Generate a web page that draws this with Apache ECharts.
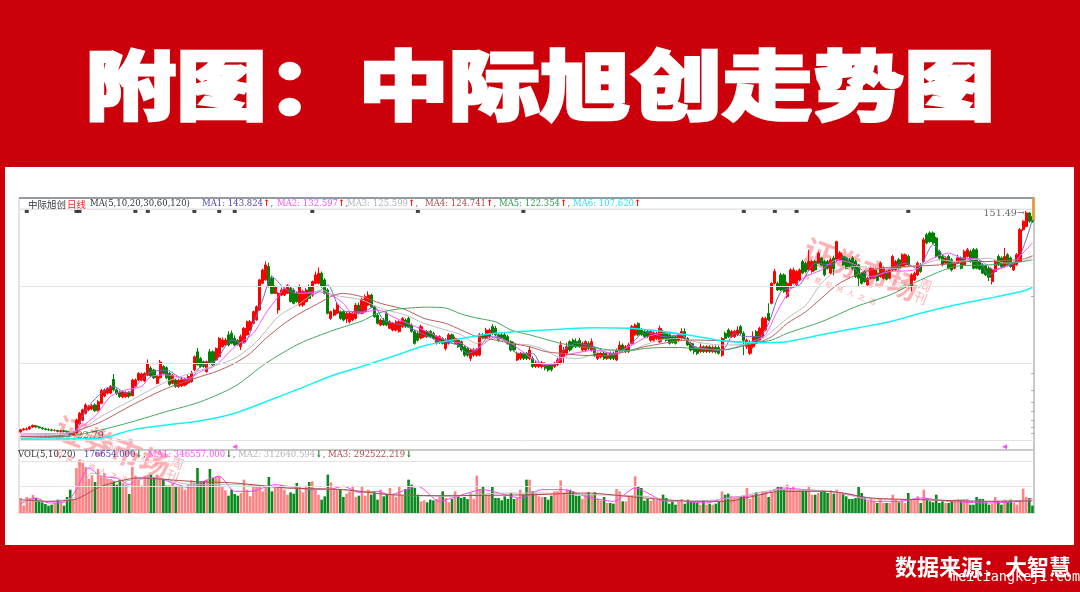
<!DOCTYPE html>
<html>
<head>
<meta charset="utf-8">
<script src="https://cdn.jsdelivr.net/npm/echarts@6/dist/echarts.min.js"></script>
<style>html,body{margin:0;padding:0;background:#cc000b}#main{width:1080px;height:592px}</style>
</head>
<body>
<div id="main"></div>
<script>
// daily candles, one row per ten bars
var opens = [
 23.6,24.0,24.1,24.2,24.6,24.8,24.6,24.4,24.2,24.1,
 24.0,23.9,23.9,23.7,23.8,23.7,23.4,23.0,23.4,25.3,
 26.0,27.6,28.4,28.6,29.6,28.3,30.0,31.9,32.7,32.7,
 36.7,33.6,33.0,31.7,31.8,32.8,32.0,34.6,36.5,36.5,
 36.2,38.0,40.4,39.7,35.5,37.2,40.9,40.5,38.6,35.5,
 36.5,34.6,34.8,35.0,35.6,36.0,39.7,46.3,43.8,42.6,
 39.2,46.3,46.3,43.2,44.4,48.3,49.0,53.4,54.1,51.8,
 51.0,48.3,50.3,53.4,55.6,58.8,60.5,65.8,82.4,84.8,
 94.9,86.0,75.7,65.8,74.6,74.6,75.7,79.0,77.9,75.7,
 68.6,68.6,70.6,80.1,74.6,82.4,82.4,89.7,84.8,77.9,
 61.3,63.0,64.0,64.9,64.9,61.0,59.6,60.5,61.3,68.6,
 64.0,64.9,68.6,74.6,67.6,63.0,58.0,60.5,64.0,56.4,
 55.6,55.6,54.9,57.2,60.5,61.3,58.0,54.9,54.0,52.0,
 52.6,54.9,54.9,54.1,49.7,50.0,51.8,47.6,49.7,53.4,
 49.7,51.0,50.4,48.3,47.6,43.8,45.0,45.0,45.0,53.4,
 52.0,52.6,57.2,56.4,53.4,53.4,53.4,52.6,50.4,49.7,
 43.2,43.8,45.7,45.7,43.8,43.8,40.9,40.9,40.9,41.8,
 41.5,41.5,40.9,41.5,42.0,44.4,45.7,50.4,51.0,50.4,
 51.0,47.0,47.0,49.7,47.0,47.6,43.8,44.4,45.7,43.8,
 45.7,45.7,43.2,47.0,49.0,46.4,46.4,49.7,53.4,58.8,
 55.6,54.9,54.9,51.0,51.0,51.8,50.4,54.9,54.0,53.4,
 52.6,52.6,51.0,51.8,54.9,51.8,49.7,48.3,47.6,46.4,
 48.3,46.4,48.3,46.4,48.0,48.0,45.0,54.1,55.6,52.6,
 52.6,53.4,57.2,54.1,48.3,45.7,48.3,54.9,51.0,52.6,
 55.6,64.0,69.6,82.4,82.4,88.4,88.4,73.6,80.1,82.4,
 81.3,84.8,99.0,97.6,92.2,91.0,99.0,97.6,102,99.0,
 99.0,89.7,102,100.4,100.4,103.3,102,100.4,102,99.0,
 96.0,89.7,91.0,81.3,86.0,86.0,89.7,87.2,86.0,91.0,
 86,92.2,92.2,100.4,94.9,96.2,103.3,80.1,84.8,88.4,
 96,99,124,125.8,125.8,120.6,107.7,103.3,97.6,103.3,
 100.4,93.5,97.6,102,96.2,103.3,107.7,109.3,109.3,99,
 96.2,95.5,93.5,83.6,91,103.3,102,94.9,104.8,102,
 92.2,96.2,99,129.4,133,149,144.8];
var closes = [
 24.0,24.2,24.2,24.6,24.9,24.6,24.4,24.2,24.1,24.0,
 23.9,23.9,23.7,23.8,23.7,23.4,23.1,23.3,26.1,27.6,
 28.4,29.6,29.2,29.4,28.2,30.4,33.4,33.6,34.0,34.6,
 33.6,32.6,31.8,33.0,32.8,31.9,36.5,36.5,38.6,38.4,
 38.6,41.9,37.8,37.2,37.6,42.5,38.6,37.2,35.2,38.0,
 34.6,36.4,36.6,36.6,37.6,38.6,44.4,41.5,40.9,40.9,
 42.6,42.0,41.5,47.6,51.8,51.1,51.1,49.0,49.7,49.0,
 49.2,52.6,56.4,59.6,59.6,64.9,67.6,84.8,92.2,96.2,
 80.1,75.7,80.1,75.7,77.9,78.4,80.1,70.6,69.6,70.6,
 80.1,76.8,77.9,72.6,83.6,88.4,89.7,80.1,75.7,64.0,
 64.9,65.8,68.6,61.3,60.5,64.0,64.0,64.0,68.6,64.0,
 72.0,73.6,74.6,67.6,62.2,58.8,60.5,58.0,58.0,59.6,
 58.8,59.6,59.6,61.3,57.2,57.2,55.0,49.7,51.0,57.2,
 54.9,52.6,52.6,51.8,52.6,52.6,49.7,51.0,53.4,50.4,
 51.8,48.3,47.0,45.0,45.0,47.0,47.0,47.0,53.4,52.0,
 55.6,55.6,54.0,53.4,51.0,52.0,51.0,49.7,47.0,47.0,
 45.7,45.7,43.8,43.8,47.0,40.9,42.2,42.0,42.2,40.3,
 39.7,39.9,42.0,43.2,49.0,47.0,48.3,47.0,48.3,48.3,
 48.3,49.7,50.4,47.6,50.4,45.0,45.7,45.7,43.8,45.0,
 43.8,43.8,47.0,49.0,47.0,48.3,49.0,57.2,58.0,53.4,
 53.4,52.6,52.6,54.9,54.4,54.0,56.4,51.8,51.0,49.7,
 50.0,49.7,53.4,54.9,51.8,49.0,47.0,46.4,45.7,48.3,
 46.4,48.3,46.4,48.0,46.2,45.7,51.8,51.8,52.6,54.9,
 54.9,55.6,54.1,51.0,51.0,49.7,52.6,49.7,56.4,61.3,
 61.3,60.5,82.4,91.0,77.9,77.9,76.8,82.4,92.2,92.2,
 91.0,92.2,89.7,91.0,99.0,99.0,92.2,106.2,96,88.4,
 93.5,100.4,93.0,117,106.2,96.2,93.5,94.9,93.5,87.2,
 86.0,82.4,83.6,86.0,93.5,92.2,84.4,97.6,93.5,85.3,
 92.2,103.3,99,93.5,104.8,104.8,96.2,88.4,89.7,97.6,
 91,118.9,115.6,117,115.6,103.3,101.8,96.2,102,93.5,
 92.2,97.6,102,93.5,107.7,109.3,99,93.5,93.5,92.8,
 89.7,88.4,86.7,92.2,99,96.2,94.9,103.3,96.2,94.9,
 97.6,104.8,129.4,138.9,149,138.9,138.9];
var lows = [
 23.4,23.8,23.9,24.0,24.4,24.4,24.3,24.1,23.9,23.8,
 23.7,23.7,23.5,23.5,23.5,23.2,22.79,22.9,23.2,25.1,
 25.8,27.3,28.1,28.3,27.9,28.0,29.8,31.6,32.3,32.4,
 33.2,32.2,31.4,31.3,31.4,31.4,31.8,34.3,36.2,36.1,
 35.9,37.7,37.4,36.8,35.2,36.9,38.2,36.8,34.8,35.2,
 34.2,34.2,34.4,34.6,35.2,35.7,39.4,41.2,40.5,40.5,
 38.8,41.6,41.1,42.8,44.0,47.9,48.6,48.5,49.3,48.6,
 48.8,47.0,49.9,53.0,55.2,58.4,60.1,65.4,81.8,84.3,
 79.6,75.2,75.2,63.8,74.0,74.0,75.2,70.2,69.0,70.0,
 67.6,67.6,70.0,72.0,73.6,81.6,81.6,79.4,75.0,63.4,
 60.6,62.4,63.4,60.6,59.8,59.0,58.8,59.8,60.8,63.4,
 63.4,64.4,68,67,61.6,58.3,57.4,57.5,57.4,56,
 55,55,54.4,56.6,56.6,56.6,54.4,49.2,50.5,51.4,
 52,52,52,51.3,49.2,49.5,49.2,46.8,49.2,50,
 49.2,47.8,46.4,44.4,44.4,42.8,44.4,44.4,44.6,51.4,
 51.6,52,53.4,52.8,50.4,51.4,50.4,49.2,46.4,46.4,
 42.8,43.2,43.2,43.2,43.2,40.4,40.4,40.4,40.2,39.6,
 39.2,39.2,40.4,41,41.6,42,45,46.4,47.6,47.8,
 47.8,46.4,46.4,47,46.4,44.4,43.2,43.8,43.2,43.2,
 43.2,43.2,42.8,46.4,46.4,45.8,45.8,49.2,53,52.8,
 53,52,52,50.4,50.4,51.2,49.8,51.2,50.4,49.2,
 49.6,49.2,50.4,51.2,51.2,48.6,46.4,45.4,45,45.8,
 45.8,45.8,45.8,45.8,45.6,45.2,44.4,51.2,52,52,
 52,52.8,53.4,45.0,47.4,45,47.6,49.2,50.4,52,
 55,60,69,81.6,77.2,77.2,76,72.6,79.4,81.6,
 80.6,84,89,90,91.4,90,91.4,97,95,87.4,
 92.8,88.8,88,99.6,99.6,95.4,92.6,94,92,86,
 80.0,81.6,82.8,80.6,85.2,85.2,83.6,86.4,85.2,84.4,
 85.2,91.4,91.4,92.6,94,95.4,95.4,77,84,87.6,
 90,98,114.4,116,114.4,102,100,95,96.6,92.6,
 91,92.6,96.8,92.6,95.4,102.4,98,92.6,92.6,92,
 89,87.6,84,81.6,90,95.4,94,94,95.4,94,
 91.4,95.4,98,128,132,137,137];
var highs = [
 24.2,24.4,24.5,24.8,25.1,25.0,24.8,24.6,24.4,24.3,
 24.2,24.1,24.0,24.0,24.0,23.9,23.6,23.6,26.4,27.9,
 28.7,30.0,29.6,29.8,30.0,30.8,33.9,34.0,34.4,35.0,
 38.4,34.0,33.4,33.4,33.2,33.2,36.9,37.0,39.0,38.9,
 39.0,43.4,41.0,40.1,38.0,43.2,41.4,41.0,39.0,38.4,
 37.0,36.9,37.2,37.2,38.1,39.4,44.9,47.8,44.3,43.0,
 43.0,47.4,46.9,48.0,52.4,52.2,52.0,55.0,55.4,53.2,
 51.5,53.6,57.0,60.2,60.5,65.5,68.4,85.4,93.2,99.0,
 98.0,88.0,81.0,76.5,79.5,79.6,82.0,80.0,79.0,77.0,
 81.5,78.0,79.0,81.5,84.4,91.0,94.2,91.0,86.0,79.0,
 65.5,66.6,70,65.5,65.5,65,64.8,64.8,69.8,70,
 73,75,77,75.5,68.5,64,61.2,61.5,65,60.4,
 59.5,60.4,60.4,62,61.2,62.2,58.8,55.6,54.8,58.2,
 55.6,55.6,55.6,54.8,53.2,53.2,52.4,51.8,54.2,54,
 52.6,51.8,51,48.9,48.2,47.6,47.8,47.8,54.2,54.2,
 56.6,56.4,58.4,57.6,54,54.2,54.2,53.4,51,50.4,
 46.4,46.2,46.2,46.2,48.5,44.6,42.8,42.6,42.8,42.4,
 42,42,42.6,44,50.6,48.2,50,51,51.8,51.8,
 52,50.4,51,50.6,51.8,48,46.4,46.4,46.4,45.8,
 46.4,46.4,47.6,50.6,49.7,49,50,58,58.8,59.4,
 56.6,55.6,55.6,55.6,55,54.8,57.8,55.6,55,54,
 53,53,54.2,56.4,56.4,52.4,50.4,49.7,48.4,49.7,
 48.9,48.9,48.9,48.8,48.9,48.8,52.4,54.9,56.4,55.6,
 55.6,57.4,58,55,51.8,51,55,55.6,57.2,62.2,
 62.2,69.6,83,93,83.6,90,89.6,83.6,93.5,94,
 92,93.4,100.4,98.8,109.3,100.4,100.4,107.6,103,100.4,
 100.4,102,104,118,108,104.8,103.4,102,103.4,100.4,
 97,90.5,92,87,94.9,94,92.2,99,95,92,
 93.4,104.8,100.4,102,106,106,104.8,89.7,91,99,
 97.6,121,125.8,127.6,127.6,122,109.3,104.8,103.3,104.8,
 101.8,98.8,104.8,103.3,109.3,111,109.3,111,110.8,100.4,
 97.6,96.2,95,93.5,100.4,105,103.3,111,106.2,103.3,
 98.8,106.2,131,140,151.49,150,146];

// volume in units of 10,000
var volumes = [
 36,18.4,38.4,36,43.2,36,30.4,25.6,21.6,17.6,
 20,24,32,25.6,17.6,38.4,56,33.6,108,128,
 120,110.4,81.6,90.4,74.4,105.6,89.6,96,81.6,81.6,
 76,68,80,72,68,45.6,110.4,89.6,80,65.6,
 89.6,92,92,86.4,92,81.6,80,65.6,65.6,72,
 62.4,62.4,64,56,68,78.4,73.6,108,73.6,76,
 80,105.6,84,86.4,88,64,54.4,41.6,56,45.6,
 41.6,48,80,56,40,64,64,65.6,52,64,
 86.4,52,65.6,64,68,56,44,49.6,46.4,72,
 62.4,49.6,65.6,74.4,76,56,44,32,40,92,
 73.6,60,56,56,38.4,46.4,52,65.6,38.4,41.6,
 62.4,41.6,56,44,52,32,56,40,44,60,
 44,38.4,64,41.6,57.6,80,68,60,44,28,
 30.4,25.6,32,30.4,33.6,40,52,36,25.6,33.6,
 52,40,36,38.4,33.6,48,33.6,89.6,57.6,62.4,
 44,44,62.4,36,36,30.4,40,33.6,48,33.6,
 36,56,44,80,80,52,48,40,38.4,38.4,
 32,41.6,52,52,78.4,49.6,56,56,52,41.6,
 41.6,33.6,46.4,49.6,44,49.6,33.6,29.6,38.4,24,
 24,22.4,57.6,52,28,28,38.4,41.6,88,64,
 60,29.6,33.6,29.6,33.6,32,33.6,44,36,22.4,
 28,20,28,33.6,22.4,32,28,25.6,24,20,
 30.4,20,22.4,20,22.4,28,52,44,46.4,40,
 38.4,38.4,40,41.6,60,33.6,44,49.6,40,52,
 52,38.4,49.6,57.6,64,64,57.6,68,57.6,62.4,
 54.4,56,54.4,54.4,65.6,44,44,48,52,52,
 48,54.4,46.4,56,48,46.4,40,33.6,33.6,36,
 64,48,38.4,28,36,28,24,36,24,24,
 24,44,33.6,25.6,30.4,24,48,32,32,40,
 24,56,36,28,25.6,44,24,28,24,24,
 28,32,33.6,32,33.6,33.6,20,20,38.4,33.6,
 33.6,25.6,20,22.4,38.4,28,20,32,28,32,
 24,20,30.4,58.4,38.4,36,17.67];

// moving averages: bar index and value
var ma1Idx = [0,15,18,21,26,30,34,36,41,47,53,55,58,63,68,72,75,78,81,85,89,95,99,102,105,110,114,117,123,127,134,141,144,147,151,156,160,165,168,172,175,179,185,191,198,201,207,213,217,226,230,233,238,241,245,251,256,261,265,270,273,280,285,289,294,297,301,308,312,315,321,326];
var ma1Vals = [22.7,23,24,28.4,32.7,34.6,32.7,33.6,38.6,39.7,36.5,37,40.9,43.2,51.1,49.7,58.8,71.6,87.2,79,75.7,75.7,81.3,69.6,64.9,64.9,67.6,60.5,57.9,55.6,51.1,49,45.7,47,52.6,51.1,45.7,45.7,41.5,41.5,47,49.7,48.3,45,51.1,54.9,52.6,53.4,48.3,47,54.1,52.6,52.6,58.8,76.8,81.3,97.6,96.2,103,89.7,85,93,97.6,93,114,105,97.6,102,88.4,93,99,141];
var ma2Idx = [0,15,18,24,29,34,39,42,47,54,58,63,69,75,79,83,86,90,96,101,104,107,110,115,121,126,131,137,142,146,153,158,164,169,172,176,181,185,191,196,202,207,213,217,226,237,240,244,248,253,258,263,269,274,280,288,293,299,303,309,314,320,326];
var ma2Vals = [23.2,23.3,24,26.9,31.8,33.6,34.6,37.6,38.1,37,39.2,41.4,48.3,54.1,64,73.6,81.3,75.7,76.8,73.6,69.6,64,64.4,65.8,61.3,58,54.9,51.1,49.7,47,52.6,49.7,44.4,41.5,42,45,46.3,47,45.7,48.3,52.6,54.1,53.4,48.3,47,51.1,53.4,65.8,77.9,87.2,92.2,100.4,96.2,87.2,90.9,92.2,100.4,106.2,102,100.4,92.2,99,115.6];
var ma3Idx = [0,18,26,36,47,58,69,76,83,90,97,101,110,116,124,130,137,142,147,153,158,164,169,173,180,185,190,196,201,206,212,217,226,237,242,247,253,258,263,269,280,290,296,301,312,317,323,326];
var ma3Vals = [22.9,23.7,26.9,30.9,36,39.7,43.8,50.4,62.2,69.6,77.9,74.6,71.6,66.7,63.1,58.8,55.6,53.4,49.7,51.8,49.7,49,47,44.4,43.8,45.7,47,46.7,49,51.1,51.8,50.4,49,50,54.9,61.3,68.6,82.4,91.6,94.9,93,96.2,100.4,99,101.8,97.6,99,103.3];
var ma4Idx = [0,15,18,26,36,47,58,63,69,74,79,85,90,96,101,104,110,116,124,130,137,142,147,153,158,164,169,174,180,185,190,196,201,207,212,217,226,237,242,247,253,258,263,269,274,280,285,290,296,301,306,312,317,323,326];
var ma4Vals = [22.7,22.7,23.7,25.7,29.6,34,37.6,39.2,42,45.7,51.8,58.8,64,69.6,74.6,75.7,73.6,69.6,66,61.3,58.8,55.6,52.6,51.1,49.7,48.3,46.4,45.7,45,44.8,45,46.7,48.3,49.7,50.8,51.1,50.8,50,52.6,58.8,64.9,72.6,81.3,88.2,92.2,94.3,94.9,95.4,96.2,97.6,99,99,99.8,101,103.9];
var ma5Idx = [0,15,26,36,47,58,69,79,90,101,110,115,121,131,137,142,147,153,158,164,169,174,180,185,190,196,201,207,212,217,226,237,242,247,258,269,280,290,301,312,323,326];
var ma5Vals = [22.4,22.7,24,25.7,28,30.4,34.6,42,49.7,55.6,60,64,66.2,67.4,66.9,63.6,61.5,59.6,55.6,53.4,51.5,49.7,48.3,47.9,47,46.7,47.6,48,48,47.6,47,50,51.1,54.1,59.6,67.6,74.6,84.8,94.9,96.2,99,100.4];
var ma6Idx = [0,26,36,47,58,69,79,90,101,110,121,131,142,153,164,174,185,196,207,217,226,237,247,258,269,280,290,301,312,323,326];
var ma6Vals = [22.2,22.4,24,25,25.9,27.6,30.4,34,38.1,40.9,45,49,51.8,54.1,55.2,56,56.7,56.4,54.9,52.9,50.8,50,50.4,53.4,56.4,59.6,64,68.6,72.6,77.2,79.6];

var volMa1Idx = [0,5,9,15,18,22,26,31,35,38,44,49,55,59,64,69,74,82,86,94,100,104,109,115,119,128,135,140,149,156,161,168,175,182,191,198,201,208,212,221,227,233,239,245,253,260,268,274,283,290,299,312,322,326];
var volMa1Vals = [22.4,36,24,28,56,108,88,84,68,84,84,72,60,76,88,52,52,68,64,56,57.6,64,49.6,52,44,64,28,38.4,56,44,36,56,56,40,28,60,52,28,28,24,36,40,44,60,56,52,44,28,28,36,28,24,28,34.7];
var volMa2Idx = [0,9,18,23,31,44,55,69,86,104,119,138,156,166,182,201,212,227,245,260,274,290,312,326];
var volMa2Vals = [28,28,40,96,76,84,68,68,60,56,44,40,48,48,44,40,28,33.6,56,52,33.6,32,28,31.26];
var volMa3Idx = [0,9,18,26,38,55,69,86,104,119,136,166,182,201,217,227,245,260,274,290,312,326];
var volMa3Vals = [32,28,33.6,64,84,76,72,60,56,44,41.6,44,48,36,28,28,52,52,36,32,28,29.25];

var gridVals = [22.03,42.1,80.5,154];
var volGridVals = [63.1,124.8];
var priceTicks = [74,38.7,33.6,30.4,28,26,24.6,23.4];
var noticeIdx = [2,18,19,37,41,56,64,69,94,128,162,233,243,250,286];
var triangleIdx = [69,317];

var RED = '#ff0000', GREEN = '#008000';
var chart = echarts.init(document.getElementById('main'));

var categories = [], candles = [], volBars = [];
for (var i = 0; i < closes.length; i++) {
    categories.push(String(i));
    candles.push([opens[i], closes[i], lows[i], highs[i]]);
    volBars.push({
        value: volumes[i],
        itemStyle: {color: closes[i] >= opens[i] ? '#ff8282' : '#0a8a1e'}
    });
}

function pairs(idx, vals) {
    return idx.map(function (x, k) { return [x, vals[k]]; });
}

function maLine(name, idx, vals, color, width, axis) {
    return {
        name: name,
        type: 'line',
        xAxisIndex: axis,
        yAxisIndex: axis,
        data: pairs(idx, vals),
        showSymbol: false,
        smooth: 0.25,
        silent: true,
        z: 4,
        lineStyle: {color: color, width: width}
    };
}

function gridLines(vals) {
    return {
        silent: true,
        symbol: 'none',
        label: {show: false},
        lineStyle: {color: '#e2e2e2', width: 1, type: 'solid'},
        data: vals.map(function (v) { return {yAxis: v}; })
    };
}

var HEAD_FONT = '"DejaVu Serif", "Noto Sans CJK SC", serif';

function head(x, y, text, color, arrow, arrowColor, comma) {
    return {
        type: 'text',
        x: x,
        y: y,
        z: 20,
        style: {
            text: '{a|' + text + '}' + (arrow ? '{b|' + arrow + '}' : '') + (comma ? '{c|,}' : ''),
            verticalAlign: 'middle',
            rich: {
                a: {fill: color, fontSize: 8.5, fontFamily: HEAD_FONT},
                b: {fill: arrowColor, fontSize: 9, fontFamily: HEAD_FONT, fontWeight: 'bold'},
                c: {fill: '#555', fontSize: 8.5, fontFamily: HEAD_FONT}
            }
        }
    };
}

// watermark of the magazine, twice under the chart marks
function stamp(x, y) {
    var fill = 'rgba(255,70,80,0.42)';
    return [
        {type: 'text', x: x, y: y, rotation: -0.36, z: 1, silent: true,
            style: {text: '证券市场', fill: fill, fontSize: 30, fontWeight: 'bold', fontFamily: '"Noto Sans CJK SC"'}},
        {type: 'text', x: x + 112, y: y + 42, rotation: -0.36, z: 1, silent: true,
            style: {text: '周\n刊', fill: fill, fontSize: 13, lineHeight: 14, fontFamily: '"Noto Sans CJK SC"'}},
        {type: 'text', x: x - 5, y: y + 38, rotation: -0.36, z: 1, silent: true,
            style: {text: '股   票   投   资   人   之   选', fill: 'rgba(255,70,80,0.5)', fontSize: 7, fontFamily: '"Noto Sans CJK SC"'}},
        {type: 'text', x: x + 48, y: y + 32, rotation: -0.36, z: 1, silent: true,
            style: {text: 'WEEKLY ON STOCKS', fill: 'rgba(255,70,80,0.5)', fontSize: 5, fontFamily: '"DejaVu Serif"'}}
    ];
}

var graphics = [
    {type: 'rect', z: -5, silent: true, shape: {x: 5, y: 167, width: 1069, height: 378}, style: {fill: '#ffffff'}},
    {type: 'line', z: 20, silent: true, shape: {x1: 19, y1: 198, x2: 1034, y2: 198}, style: {stroke: '#3d5660', lineWidth: 1}},
    {type: 'line', z: 20, silent: true, shape: {x1: 19, y1: 209, x2: 1034, y2: 209}, style: {stroke: '#e2e2e2', lineWidth: 1}},
    {type: 'line', z: 20, silent: true, shape: {x1: 19, y1: 450, x2: 1034, y2: 450}, style: {stroke: '#c4c4c4', lineWidth: 1.5}},
    {type: 'rect', z: 20, silent: true, shape: {x: 1032, y: 198, width: 3, height: 22}, style: {fill: '#e8a040'}},
    {type: 'text', x: 85, y: 85, scaleY: 0.84, z: 20, style: {
        text: '附图：中际旭创走势图', fill: '#fff', stroke: '#fff', lineWidth: 3,
        fontSize: 91, fontWeight: 900, fontFamily: '"Noto Sans CJK SC"', verticalAlign: 'middle'}},
    {type: 'text', x: 895, y: 567, z: 20, style: {
        text: '数据来源：大智慧', fill: '#fff', fontSize: 22, fontWeight: 'bold',
        fontFamily: '"Noto Sans CJK SC"', verticalAlign: 'middle'}},
    {type: 'text', x: 950, y: 577, z: 21, style: {
        text: 'meiliangkeji.com', fill: '#fff', fontSize: 13.5,
        fontFamily: '"DejaVu Sans Mono"', verticalAlign: 'middle'}},
    {type: 'text', x: 28, y: 204, z: 20, style: {
        text: '中际旭创', fill: '#333', fontSize: 9.5, fontFamily: '"Noto Sans CJK SC"', verticalAlign: 'middle'}},
    {type: 'text', x: 67, y: 204, z: 20, style: {
        text: '日线', fill: '#ff2020', fontSize: 9.5, fontFamily: '"Noto Sans CJK SC"', verticalAlign: 'middle'}},
    head(90, 204, 'MA(5,10,20,30,60,120)', '#333'),
    head(202, 204, 'MA1: 143.824', '#4a4ab4', '↑', RED, true),
    head(277, 204, 'MA2: 132.597', '#ff50ff', '↑', RED, true),
    head(347, 204, 'MA3: 125.599', '#b4b4b4', '↑', RED, true),
    head(425, 204, 'MA4: 124.741', '#b04848', '↑', RED, true),
    head(499, 204, 'MA5: 122.354', '#2f9e55', '↑', RED, true),
    head(573, 204, 'MA6: 107.620', '#20e8f0', '↑', RED),
    head(18, 455, 'VOL(5,10,20)', '#333'),
    head(84, 455, '176654.000', '#4a4ab4', '↓', GREEN, true),
    head(148, 455, 'MA1: 346557.000', '#ff50ff', '↓', GREEN, true),
    head(238, 455, 'MA2: 312640.594', '#b4b4b4', '↓', GREEN, true),
    head(328, 455, 'MA3: 292522.219', '#b04848', '↓', GREEN)
].concat(stamp(62, 412), stamp(810, 234));

var option = {
    animation: false,
    backgroundColor: '#cc000b',
    graphic: graphics,
    grid: [
        {left: 19, right: 46, top: 198, height: 252, show: true, borderColor: '#c8c8c8', borderWidth: 1},
        {left: 19, right: 46, top: 450, height: 63, show: true, borderColor: '#c8c8c8', borderWidth: 1}
    ],
    xAxis: [
        {type: 'category', gridIndex: 0, data: categories, boundaryGap: true, show: false},
        {type: 'category', gridIndex: 1, data: categories, boundaryGap: true, show: false}
    ],
    yAxis: [
        {type: 'log', gridIndex: 0, min: 20.26, max: 168.9, position: 'right', splitLine: {show: false},
            axisLine: {show: true, lineStyle: {color: '#c8c8c8', width: 2}},
            axisTick: {show: true, length: 3, inside: true, customValues: priceTicks, lineStyle: {color: '#aaa'}},
            axisLabel: {show: false}},
        {type: 'value', gridIndex: 1, min: 0, max: 151.2, position: 'right', splitLine: {show: false},
            axisLine: {show: true, lineStyle: {color: '#c8c8c8', width: 2}},
            axisTick: {show: false}, axisLabel: {show: false}}
    ],
    series: [
        {
            name: '日线',
            type: 'candlestick',
            xAxisIndex: 0,
            yAxisIndex: 0,
            data: candles,
            barWidth: 2.6,
            z: 3,
            itemStyle: {color: RED, color0: GREEN, borderColor: RED, borderColor0: GREEN, borderWidth: 1},
            markLine: gridLines(gridVals)
        },
        maLine('MA1', ma1Idx, ma1Vals, '#6a6ac8', 1, 0),
        maLine('MA2', ma2Idx, ma2Vals, '#ff50ff', 1, 0),
        maLine('MA3', ma3Idx, ma3Vals, '#bcbcbc', 1, 0),
        maLine('MA4', ma4Idx, ma4Vals, '#b86060', 1, 0),
        maLine('MA5', ma5Idx, ma5Vals, '#45a862', 1, 0),
        maLine('MA6', ma6Idx, ma6Vals, '#19f0f5', 1.5, 0),
        {
            name: 'notice',
            type: 'scatter',
            xAxisIndex: 0,
            yAxisIndex: 0,
            silent: true,
            symbol: 'rect',
            symbolSize: 4,
            itemStyle: {color: '#111'},
            data: noticeIdx.map(function (x) { return [x, 151.5]; })
        },
        {
            name: 'mark',
            type: 'scatter',
            xAxisIndex: 0,
            yAxisIndex: 0,
            silent: true,
            symbol: 'triangle',
            symbolRotate: 90,
            symbolSize: 5,
            itemStyle: {color: '#ff20ff'},
            data: triangleIdx.map(function (x) { return [x, 20.8]; })
        },
        {
            name: 'extremes',
            type: 'scatter',
            xAxisIndex: 0,
            yAxisIndex: 0,
            silent: true,
            symbolSize: 1,
            z: 6,
            itemStyle: {color: 'transparent'},
            data: [
                {value: [324, 151.49], label: {show: true, position: 'left', distance: 1, offset: [0, 3], formatter: '151.49→', color: '#444', fontSize: 9.5, fontFamily: HEAD_FONT}},
                {value: [16, 22.79], label: {show: true, position: 'right', distance: 6, formatter: '22.79', color: '#444', fontSize: 9.5, fontFamily: HEAD_FONT}}
            ]
        },
        {
            name: 'VOL',
            type: 'bar',
            xAxisIndex: 1,
            yAxisIndex: 1,
            data: volBars,
            barWidth: 2.6,
            z: 3,
            markLine: gridLines(volGridVals)
        },
        maLine('VMA1', volMa1Idx, volMa1Vals, '#ff40ff', 1, 1),
        maLine('VMA2', volMa2Idx, volMa2Vals, '#bcbcbc', 1, 1),
        maLine('VMA3', volMa3Idx, volMa3Vals, '#b04848', 1, 1)
    ]
};
chart.setOption(option);
</script>
</body>
</html>
